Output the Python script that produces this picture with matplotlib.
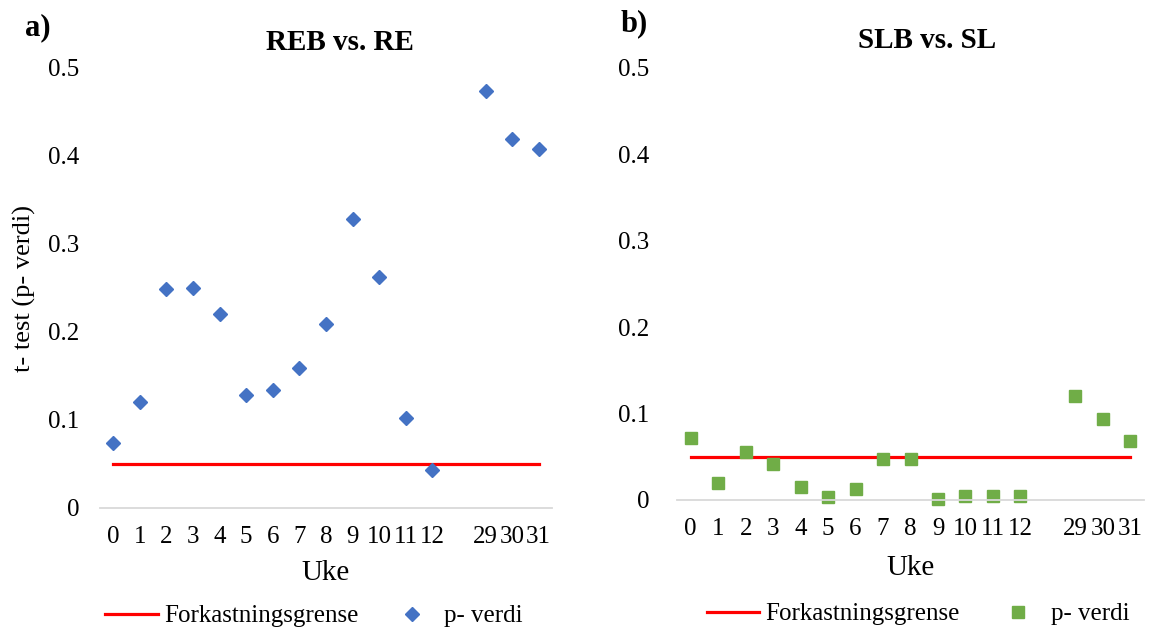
import numpy as np
import matplotlib
matplotlib.use("Agg")
import matplotlib.pyplot as plt

plt.rcParams['font.family'] = ['Liberation Serif', 'DejaVu Serif']

# uke (weeks) - empty slot between 12 and 29 like in the excel chart
uke = ['0', '1', '2', '3', '4', '5', '6', '7', '8', '9', '10', '11', '12', '', '29', '30', '31']
p_reb = [0.074, 0.120, 0.249, 0.250, 0.220, 0.128, 0.134, 0.159, 0.209, 0.328,
         0.263, 0.102, 0.043, np.nan, 0.474, 0.419, 0.408]
p_slb = [0.072, 0.020, 0.056, 0.042, 0.015, 0.004, 0.013, 0.047, 0.047, 0.001,
         0.005, 0.005, 0.005, np.nan, 0.120, 0.094, 0.068]
grense = [0.05] * len(uke)
yticks = [0, 0.1, 0.2, 0.3, 0.4, 0.5]
ytick_labels = ['0', '0.1', '0.2', '0.3', '0.4', '0.5']

W, H = 1149, 630
fig = plt.figure(figsize=(W / 100, H / 100), dpi=100)

# left/right/bottom/top in pixels
ax_a = fig.add_axes([100 / W, 1 - 508 / H, 452 / W, 440 / H])
ax_b = fig.add_axes([677 / W, 1 - 500 / H, 467 / W, 432 / H])

x = np.arange(len(uke))


def setup(ax, ypad):
    ax.set_xlim(-0.5, len(uke) - 0.5)
    ax.set_ylim(0, 0.5)
    ax.set_xticks(x)
    ax.set_xticklabels(uke)
    ax.set_yticks(yticks)
    ax.set_yticklabels(ytick_labels)
    for s in ['top', 'right', 'left']:
        ax.spines[s].set_visible(False)
    ax.spines['bottom'].set_color('#d9d9d9')
    ax.spines['bottom'].set_linewidth(1.3)
    ax.tick_params(axis='x', length=0, pad=13, labelsize=18)
    ax.tick_params(axis='y', length=0, pad=ypad, labelsize=18)


setup(ax_a, 15)
setup(ax_b, 20)

ax_a.plot(x, grense, color='#ff0000', lw=2.3, label='Forkastningsgrense')
ax_a.plot(x, p_reb, 'D', color='#4472c4', ms=7, ls='none', label='p- verdi', clip_on=False)

ax_b.plot(x, grense, color='#ff0000', lw=2.3, label='Forkastningsgrense')
ax_b.plot(x, p_slb, 's', color='#70ad47', ms=8.5, ls='none', label='p- verdi', clip_on=False)

ax_a.set_ylabel('t- test (p- verdi)', fontsize=19)
ax_a.yaxis.set_label_coords(-76 / 452, 0.5)
ax_a.yaxis.label.set_va('center')

ax_a.set_xlabel('Uke', fontsize=21)
ax_a.xaxis.set_label_coords(0.5, -65 / 440)
ax_a.xaxis.label.set_va('center')
ax_b.set_xlabel('Uke', fontsize=21)
ax_b.xaxis.set_label_coords(0.5, -68 / 432)
ax_b.xaxis.label.set_va('center')

fig.text(340 / W, 1 - 42 / H, 'REB vs. RE', fontsize=21, fontweight='bold', ha='center', va='center')
fig.text(927 / W, 1 - 40 / H, 'SLB vs. SL', fontsize=21, fontweight='bold', ha='center', va='center')
fig.text(38 / W, 1 - 28 / H, 'a)', fontsize=22, fontweight='bold', ha='center', va='center')
fig.text(634 / W, 1 - 24 / H, 'b)', fontsize=22, fontweight='bold', ha='center', va='center')

fig.legend(*ax_a.get_legend_handles_labels(), loc='center', bbox_to_anchor=(314 / W, 1 - 616 / H),
           ncol=2, frameon=False, fontsize=18, handlelength=2.1, handletextpad=0.25,
           columnspacing=1.1, borderpad=0, borderaxespad=0)
fig.legend(*ax_b.get_legend_handles_labels(), loc='center', bbox_to_anchor=(918 / W, 1 - 614 / H),
           ncol=2, frameon=False, fontsize=18, handlelength=2.1, handletextpad=0.25,
           columnspacing=1.3, borderpad=0, borderaxespad=0)

fig.savefig('out.png', dpi=100)
